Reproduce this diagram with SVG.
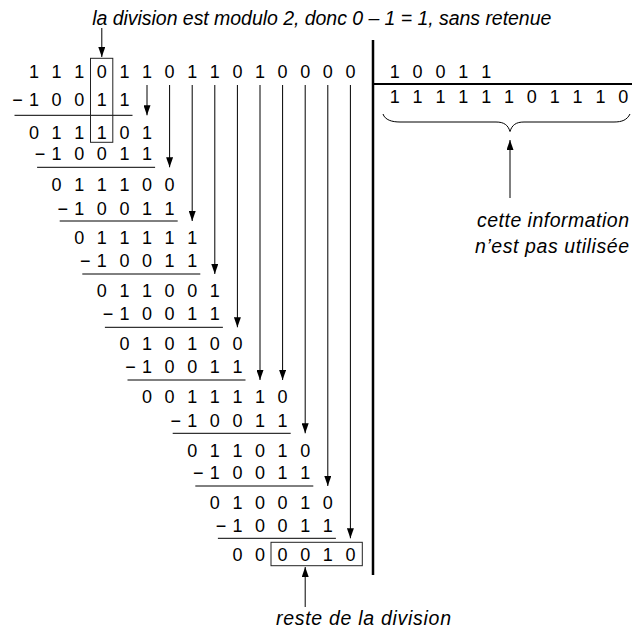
<svg xmlns="http://www.w3.org/2000/svg" width="632" height="633" viewBox="0 0 632 633">
  <style>
    .d { font-family: "Liberation Sans", Arial, Helvetica, sans-serif; font-size: 18px; fill: #000; text-anchor: middle; }
    .lbl { font-family: "Liberation Sans", Arial, Helvetica, sans-serif; font-size: 19.5px; font-style: italic; fill: #000; }
    .rule { stroke: #000; stroke-width: 1; fill: none; }
    .box { stroke: #222; stroke-width: 1; fill: none; }
    .arr { stroke: #000; stroke-width: 1; fill: none; marker-end: url(#head); }
    .frame { stroke: #000; fill: none; }
  </style>
  <defs>
    <marker id="head" markerUnits="userSpaceOnUse" markerWidth="10" markerHeight="7" refX="10" refY="3.5" orient="auto">
      <path d="M0,0 L10,3.5 L0,7 z" fill="#000"/>
    </marker>
  </defs>

  <rect width="632" height="633" fill="#fff"/>

  <!-- division frame: divisor / quotient separator -->
  <g id="frame">
    <line class="frame" x1="373" y1="40" x2="373" y2="575" stroke-width="2.5"/>
    <line class="frame" x1="373" y1="84" x2="632" y2="84" stroke-width="2"/>
  </g>

  <!-- dividend -->
  <g id="dividend">
    <text class="d" x="34 56.6 79.2 101.8 124.4 147 169.6 192.2 214.8 237.4 260 282.6 305.2 327.8 350.4" y="78">111011011010000</text>
  </g>

  <!-- successive subtraction steps -->
  <g id="step1">
    <text class="d" x="17.5 34 56.6 79.2 101.8 124.4" y="106">−10011</text>
    <line class="rule" x1="14.5" y1="115.3" x2="132.5" y2="115.3"/>
    <text class="d" x="34 56.6 79.2 101.8 124.4 147" y="139.3">011101</text>
  </g>
  <g id="step2">
    <text class="d" x="40.1 56.6 79.2 101.8 124.4 147" y="159.5">−10011</text>
    <line class="rule" x1="37.1" y1="167.3" x2="155.1" y2="167.3"/>
    <text class="d" x="56.6 79.2 101.8 124.4 147 169.6" y="190.7">011100</text>
  </g>
  <g id="step3">
    <text class="d" x="62.7 79.2 101.8 124.4 147 169.6" y="215">−10011</text>
    <line class="rule" x1="59.7" y1="221" x2="177.7" y2="221"/>
    <text class="d" x="79.2 101.8 124.4 147 169.6 192.2" y="244">011111</text>
  </g>
  <g id="step4">
    <text class="d" x="85.3 101.8 124.4 147 169.6 192.2" y="267.3">−10011</text>
    <line class="rule" x1="82.3" y1="274" x2="200.3" y2="274"/>
    <text class="d" x="101.8 124.4 147 169.6 192.2 214.8" y="296.7">011001</text>
  </g>
  <g id="step5">
    <text class="d" x="107.9 124.4 147 169.6 192.2 214.8" y="320">−10011</text>
    <line class="rule" x1="104.9" y1="327.3" x2="222.9" y2="327.3"/>
    <text class="d" x="124.4 147 169.6 192.2 214.8 237.4" y="350">010100</text>
  </g>
  <g id="step6">
    <text class="d" x="130.5 147 169.6 192.2 214.8 237.4" y="373.3">−10011</text>
    <line class="rule" x1="127.5" y1="380" x2="245.5" y2="380"/>
    <text class="d" x="147 169.6 192.2 214.8 237.4 260 282.6" y="402.7">0011110</text>
  </g>
  <g id="step7">
    <text class="d" x="175.7 192.2 214.8 237.4 260 282.6" y="427.3">−10011</text>
    <line class="rule" x1="172.7" y1="433.3" x2="290.7" y2="433.3"/>
    <text class="d" x="192.2 214.8 237.4 260 282.6 305.2" y="456.7">011010</text>
  </g>
  <g id="step8">
    <text class="d" x="198.3 214.8 237.4 260 282.6 305.2" y="479.3">−10011</text>
    <line class="rule" x1="195.3" y1="486" x2="313.3" y2="486"/>
    <text class="d" x="214.8 237.4 260 282.6 305.2 327.8" y="509">010010</text>
  </g>
  <g id="step9">
    <text class="d" x="220.9 237.4 260 282.6 305.2 327.8" y="532.3">−10011</text>
    <line class="rule" x1="217.9" y1="538.3" x2="335.9" y2="538.3"/>
    <text class="d" x="237.4 260 282.6 305.2 327.8 350.4" y="560.7">000010</text>
  </g>

  <!-- highlighted bit and remainder -->
  <g id="bit-box">
    <rect class="box" x="90.5" y="58.3" width="22.3" height="84"/>
  </g>
  <g id="remainder-box">
    <rect class="box" x="271" y="542.3" width="91.3" height="23.4"/>
  </g>

  <!-- divisor and quotient -->
  <g id="divisor">
    <text class="d" x="394.7 417.56 440.42 463.28 486.14" y="78">10011</text>
  </g>
  <g id="quotient">
    <text class="d" x="394.7 417.56 440.42 463.28 486.14 509 531.86 554.72 577.58 600.44 623.3" y="103">11111101110</text>
    <path class="rule" d="M383,114 C385,120 392,122 400,122 L496,122 C504,122 508,125 510,131.5 C512,125 516,122 524,122 L614,122 C622,122 627,120 630,114"/>
  </g>

  <!-- annotations -->
  <g id="note-modulo">
    <text class="lbl" x="92.3" y="24.5" textLength="459" lengthAdjust="spacing">la division est modulo 2, donc 0 – 1 = 1, sans retenue</text>
  </g>
  <g id="note-quotient">
    <text class="lbl" x="477" y="227.3" textLength="152" lengthAdjust="spacing">cette information</text>
    <text class="lbl" x="475" y="253.3" textLength="154" lengthAdjust="spacing">n’est pas utilisée</text>
  </g>
  <g id="note-remainder">
    <text class="lbl" x="276" y="625" textLength="175" lengthAdjust="spacing">reste de la division</text>
  </g>

  <!-- bring-down arrows and annotation pointers -->
  <g id="connectors">
    <line class="arr" x1="147" y1="85" x2="147" y2="115.3"/>
    <line class="arr" x1="169.6" y1="85" x2="169.6" y2="167.3"/>
    <line class="arr" x1="192.2" y1="85" x2="192.2" y2="221"/>
    <line class="arr" x1="214.8" y1="85" x2="214.8" y2="274"/>
    <line class="arr" x1="237.4" y1="85" x2="237.4" y2="327.3"/>
    <line class="arr" x1="260" y1="85" x2="260" y2="380"/>
    <line class="arr" x1="282.6" y1="85" x2="282.6" y2="380"/>
    <line class="arr" x1="305.2" y1="85" x2="305.2" y2="433.3"/>
    <line class="arr" x1="327.8" y1="85" x2="327.8" y2="486"/>
    <line class="arr" x1="350.4" y1="85" x2="350.4" y2="538.3"/>
    <line class="arr" x1="101.8" y1="28" x2="101.8" y2="57"/>
    <line class="arr" x1="510" y1="198" x2="510" y2="140"/>
    <line class="arr" x1="305.2" y1="607" x2="305.2" y2="567"/>
  </g>
</svg>
